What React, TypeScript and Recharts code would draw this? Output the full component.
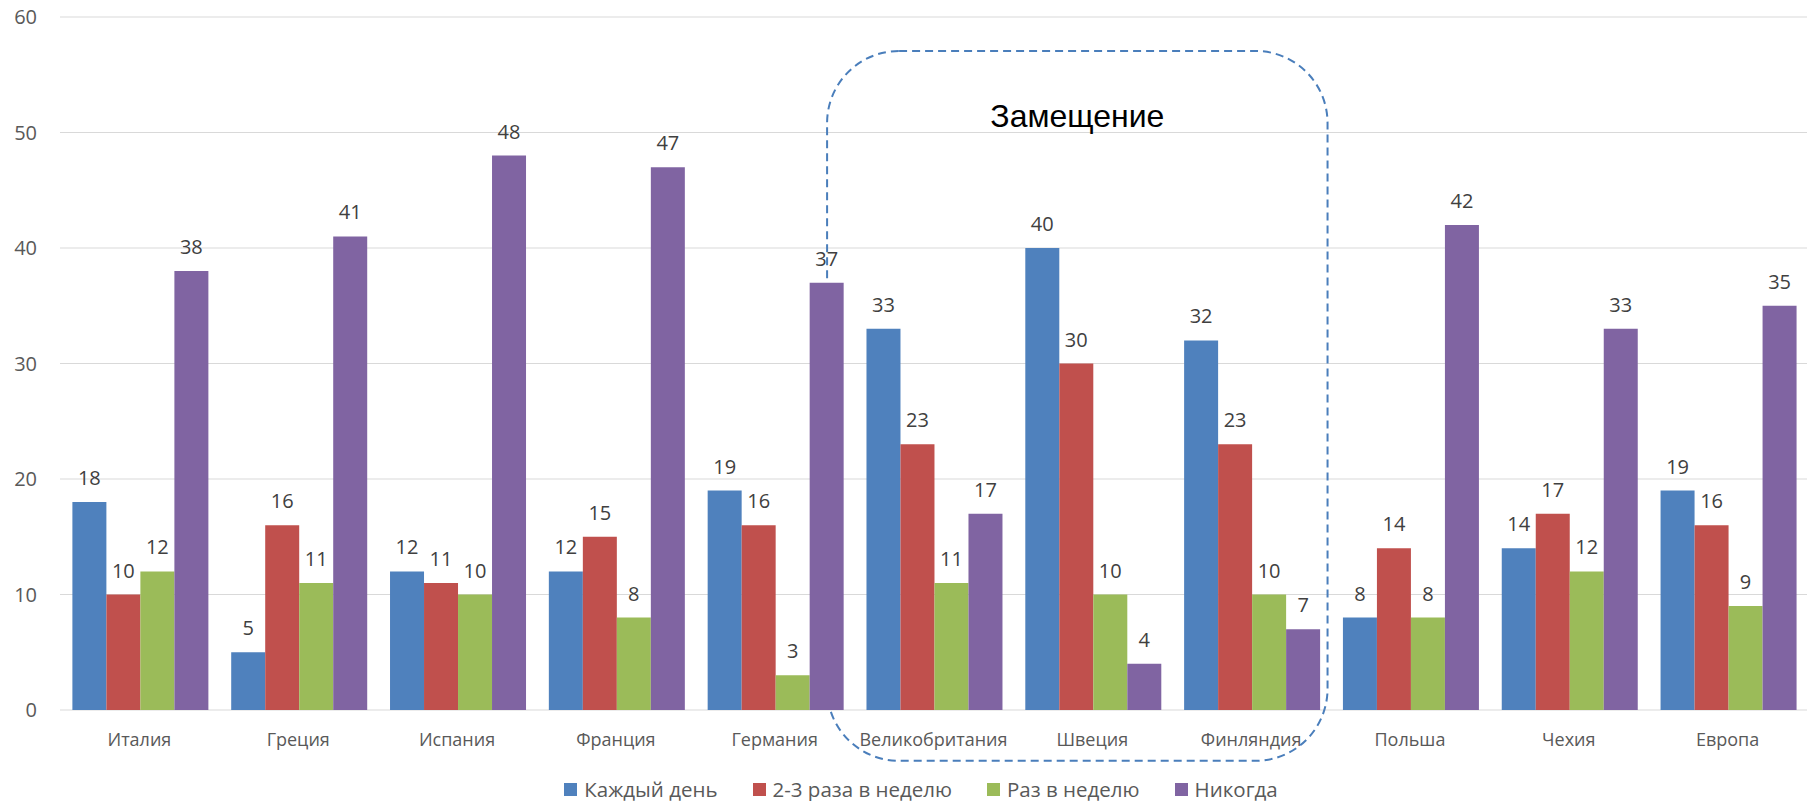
import React from "react";
import {
  BarChart,
  Bar,
  XAxis,
  YAxis,
  CartesianGrid,
  Legend,
  LabelList,
  ReferenceArea,
} from "recharts";

const categories = [
  "Италия",
  "Греция",
  "Испания",
  "Франция",
  "Германия",
  "Великобритания",
  "Швеция",
  "Финляндия",
  "Польша",
  "Чехия",
  "Европа",
];
const everyDay = [18, 5, 12, 12, 19, 33, 40, 32, 8, 14, 19];
const twoThree = [10, 16, 11, 15, 16, 23, 30, 23, 14, 17, 16];
const oncePerWeek = [12, 11, 10, 8, 3, 11, 10, 10, 8, 12, 9];
const never = [38, 41, 48, 47, 37, 17, 4, 7, 42, 33, 35];
const yTicks = [0, 10, 20, 30, 40, 50, 60];

const seriesNames = ["Каждый день", "2-3 раза в неделю", "Раз в неделю", "Никогда"];
const seriesKeys = ["a", "b", "c", "d"];
const seriesColors = ["#4F81BD", "#C0504D", "#9BBB59", "#8064A2"];

const zoneLabel = "Замещение";
const zoneFrom = "Великобритания";
const zoneTo = "Финляндия";
const zoneTop = 57.06;
const zoneBottom = -4.4;

const data = categories.map((name, i) => ({
  name,
  a: everyDay[i],
  b: twoThree[i],
  c: oncePerWeek[i],
  d: never[i],
}));

const FONT = "'Open Sans', 'DejaVu Sans', sans-serif";

const ZoneShape = (props: any) => {
  const { x, y, width, height } = props;
  const left = x - 27;
  const w = width + 24;
  return (
    <g>
      <rect
        x={left}
        y={y}
        width={w}
        height={height}
        rx={72}
        ry={72}
        fill="none"
        stroke="#4A7EBB"
        strokeWidth={2}
        strokeDasharray="8 5"
      />
      <text
        x={left + w / 2}
        y={y + 76}
        textAnchor="middle"
        fontFamily="'Liberation Sans', Arial, sans-serif"
        fontSize={32}
        fill="#000"
      >
        {zoneLabel}
      </text>
    </g>
  );
};

const LegendContent = () => (
  <div
    style={{
      display: "flex",
      justifyContent: "center",
      alignItems: "center",
      height: 30,
      paddingLeft: 35,
      paddingTop: 6,
      boxSizing: "border-box",
      fontFamily: FONT,
      fontSize: 20.5,
      color: "#595959",
      whiteSpace: "nowrap",
    }}
  >
    {seriesNames.map((n, i) => (
      <div
        key={n}
        style={{ display: "flex", alignItems: "center", marginRight: i < 3 ? 35 : 0 }}
      >
        <span
          style={{
            display: "inline-block",
            width: 13,
            height: 13,
            background: seriesColors[i],
            marginRight: 7,
          }}
        />
        <span>{n}</span>
      </div>
    ))}
  </div>
);

export default function App() {
  return (
    <div style={{ position: "absolute", left: 0, top: 0, width: 1814, height: 801, background: "#fff" }}>
      <BarChart
        width={1814}
        height={801}
        data={data}
        margin={{ top: 17, right: 7, left: 0, bottom: 0 }}
        barGap={0}
        barCategoryGap="7.8%"
      >
        <CartesianGrid vertical={false} stroke="#D9D9D9" strokeWidth={1.2} />
        <XAxis
          dataKey="name"
          height={61}
          axisLine={false}
          tickLine={false}
          tickSize={6}
          tickMargin={17}
          interval={0}
          tick={{ fill: "#595959", fontSize: 18, fontFamily: FONT }}
        />
        <YAxis
          width={60}
          domain={[0, 60]}
          ticks={yTicks}
          axisLine={false}
          tickLine={false}
          tickSize={6}
          tickMargin={17}
          tick={{ fill: "#595959", fontSize: 20, fontFamily: FONT }}
        />
        <Legend verticalAlign="bottom" content={<LegendContent />} />
        {seriesKeys.map((k, i) => (
          <Bar key={k} dataKey={k} name={seriesNames[i]} fill={seriesColors[i]} isAnimationActive={false}>
            <LabelList
              dataKey={k}
              position="top"
              offset={17}
              fill="#404040"
              fontSize={20}
              fontFamily={FONT}
            />
          </Bar>
        ))}
        <ReferenceArea
          x1={zoneFrom}
          x2={zoneTo}
          y1={zoneBottom}
          y2={zoneTop}
          ifOverflow="visible"
          shape={<ZoneShape />}
        />
      </BarChart>
    </div>
  );
}
